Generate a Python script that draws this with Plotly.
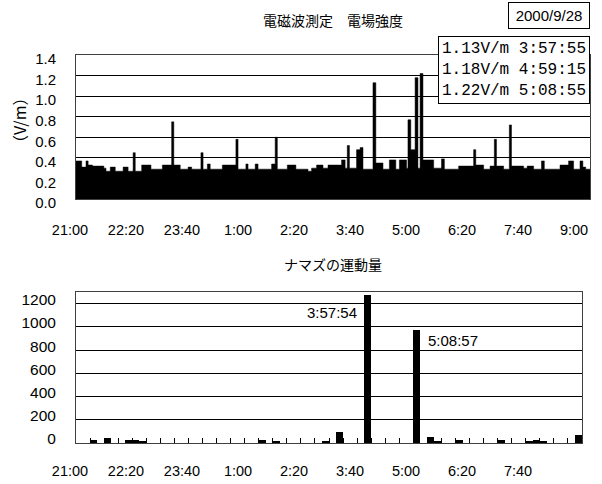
import plotly.graph_objects as go

# ---------------- data ----------------
# Top chart: electric field strength, step profile (minutes after 21:00 -> V/m)
field_start_min = [0, 8, 14, 17, 23, 39, 42, 48, 55, 66, 73, 80, 83, 92, 105, 121, 134, 137,
                   146, 157, 162, 175, 178, 184, 188, 205, 224, 227, 238, 241, 251, 255, 274,
                   279, 282, 296, 308, 325, 330, 337, 346, 353, 372, 377, 380, 383, 393, 398,
                   402, 416, 420, 430, 439, 448, 453, 463, 465, 469, 475, 479, 482, 486, 501,
                   512, 516, 536, 557, 560, 571, 580, 586, 589, 599, 607, 610, 627, 632, 641,
                   652, 656, 678, 690, 697, 706, 710, 714]
field_value = [0.37, 0.31, 0.37, 0.33, 0.32, 0.30, 0.27, 0.31, 0.27, 0.31, 0.27, 0.45, 0.27,
               0.33, 0.29, 0.33, 0.75, 0.33, 0.29, 0.31, 0.29, 0.45, 0.29, 0.34, 0.29, 0.33,
               0.58, 0.29, 0.34, 0.29, 0.34, 0.29, 0.34, 0.60, 0.29, 0.33, 0.29, 0.27, 0.30,
               0.33, 0.30, 0.33, 0.38, 0.30, 0.52, 0.30, 0.48, 0.50, 0.29, 1.13, 0.35, 0.29,
               0.38, 0.29, 0.38, 0.30, 0.77, 0.48, 1.18, 0.30, 1.22, 0.38, 0.30, 0.39, 0.29,
               0.32, 0.48, 0.33, 0.29, 0.32, 0.58, 0.32, 0.29, 0.72, 0.32, 0.30, 0.32, 0.29,
               0.37, 0.29, 0.33, 0.37, 0.29, 0.37, 0.31, 0.29]
field_end_min = 720

# Bottom chart: catfish movement per 10-minute bin (72 bins from 21:00)
motion_bin_start_min = list(range(0, 720, 10))
motion_value = [0, 0, 30, 0, 45, 0, 0, 25, 25, 10,
                0, 0, 0, 0, 0, 0, 0, 0, 0, 0,
                0, 0, 0, 0, 0, 0, 25, 0, 20, 0,
                0, 0, 0, 0, 0, 20, 0, 92, 0, 0,
                0, 1270, 0, 0, 0, 0, 0, 0, 975, 0,
                50, 20, 0, 0, 25, 0, 0, 0, 0, 0,
                25, 0, 0, 0, 20, 25, 20, 0, 0, 0,
                0, 65]

time_tick_min = [0, 80, 160, 240, 320, 400, 480, 560, 640, 720]
time_tick_text = ["21:00", "22:20", "23:40", "1:00", "2:20", "3:40", "5:00", "6:20", "7:40", "9:00"]

top_y_ticks = [0, 0.2, 0.4, 0.6, 0.8, 1.0, 1.2, 1.4]
bottom_y_ticks = [0, 200, 400, 600, 800, 1000, 1200]

title_top = "電磁波測定　電場強度"
title_bottom = "ナマズの運動量"
y_title_top = "（V/m）"
date_text = "2000/9/28"
peak_lines = ["1.13V/m 3:57:55", "1.18V/m 4:59:15", "1.22V/m 5:08:55"]
motion_peak_labels = ["3:57:54", "5:08:57"]

# ---------------- figure ----------------
W, H = 602, 484
SANS = "Liberation Sans, Arial, sans-serif"
MONO = "Liberation Mono, DejaVu Sans Mono, monospace"
CJK = "Noto Sans CJK JP, sans-serif"

fig = go.Figure()

fig.add_trace(go.Scatter(
    x=field_start_min + [field_end_min],
    y=field_value + [field_value[-1]],
    mode="lines", line=dict(shape="hv", color="black", width=0.5),
    fill="tozeroy", fillcolor="black",
    xaxis="x", yaxis="y", showlegend=False, hoverinfo="skip"))

fig.add_trace(go.Bar(
    x=motion_bin_start_min, y=motion_value, offset=0, width=10,
    marker=dict(color="black", line=dict(width=0)),
    xaxis="x2", yaxis="y2", showlegend=False))

# invisible carriers for the time-label axes
fig.add_trace(go.Scatter(x=time_tick_min, y=[None] * len(time_tick_min), mode="markers",
                         xaxis="x3", yaxis="y3", showlegend=False, hoverinfo="skip"))
fig.add_trace(go.Scatter(x=time_tick_min, y=[None] * len(time_tick_min), mode="markers",
                         xaxis="x4", yaxis="y4", showlegend=False, hoverinfo="skip"))


def px_x(p):
    return p / W


def px_y(p):
    return 1 - p / H


top_dom_x = [px_x(76), px_x(590)]
top_dom_y = [px_y(199), px_y(55)]
bot_dom_x = [px_x(76), px_x(582)]
bot_dom_y = [px_y(443), px_y(292)]

axis_line = dict(showline=True, linecolor="#404040", linewidth=1, mirror=True)

# label axis mapping: label pixel = 70 + 0.7*minute
lab_range = [-70 / 0.7, (W - 70) / 0.7]

fig.update_layout(
    width=W, height=H,
    margin=dict(l=0, r=0, t=0, b=0, autoexpand=False),
    paper_bgcolor="white", plot_bgcolor="rgba(0,0,0,0)",
    bargap=0,
    xaxis=dict(domain=top_dom_x, anchor="y", range=[0, 720], showgrid=False, automargin=False,
               zeroline=False, showticklabels=False, ticks="", **axis_line),
    yaxis=dict(domain=top_dom_y, anchor="x", range=[0, 1.4], tickvals=top_y_ticks,
               tickformat=".1f", showgrid=True, gridcolor="black", gridwidth=1,
               zeroline=False, ticks="", ticklabelstandoff=16, ticklabelshift=4,
               automargin=False,
               tickfont=dict(family=SANS, size=15, color="black"), **axis_line),
    xaxis2=dict(domain=bot_dom_x, anchor="y2", range=[0, 720], showgrid=False, automargin=False,
                zeroline=False, showticklabels=False, ticks="inside", tick0=0, dtick=20,
                ticklen=5, tickcolor="black", tickwidth=1, **axis_line),
    yaxis2=dict(domain=bot_dom_y, anchor="x2", range=[0, 1300], tickvals=bottom_y_ticks,
                showgrid=True, gridcolor="black", gridwidth=1, zeroline=False, ticks="",
                ticklabelstandoff=16, ticklabelshift=-4, automargin=False,
                tickfont=dict(family=SANS, size=15.5, color="black"), **axis_line),
    xaxis3=dict(domain=[0, 1], anchor="y3", range=lab_range, tickvals=time_tick_min,
                ticktext=time_tick_text, showgrid=False, zeroline=False, showline=False,
                ticks="", ticklabelstandoff=20, automargin=False,
                tickfont=dict(family=SANS, size=14.5, color="black")),
    yaxis3=dict(domain=top_dom_y, anchor="x3", range=[0, 1], visible=False, automargin=False),
    xaxis4=dict(domain=[0, 1], anchor="y4", range=lab_range, tickvals=time_tick_min[:-1],
                ticktext=time_tick_text[:-1], showgrid=False, zeroline=False, showline=False,
                ticks="", ticklabelstandoff=17, automargin=False,
                tickfont=dict(family=SANS, size=14.5, color="black")),
    yaxis4=dict(domain=bot_dom_y, anchor="x4", range=[0, 1], visible=False, automargin=False),
)

annotations = [
    dict(text=title_top, xref="paper", yref="paper", x=px_x(333), y=px_y(20),
         xanchor="center", yanchor="middle",
         showarrow=False, font=dict(family=CJK, size=14, color="black")),
    dict(text=title_bottom, xref="paper", yref="paper", x=px_x(333), y=px_y(264),
         xanchor="center", yanchor="middle",
         showarrow=False, font=dict(family=CJK, size=14, color="black")),
    dict(text=y_title_top, xref="paper", yref="paper", x=px_x(19), y=px_y(121),
         xanchor="center", yanchor="middle",
         textangle=-90, showarrow=False, font=dict(family=CJK, size=16, color="black")),
    dict(text=date_text, xref="paper", yref="paper", x=px_x(590), y=px_y(2),
         xanchor="right", yanchor="top", showarrow=False, bgcolor="white",
         bordercolor="black", borderwidth=1, borderpad=4, width=72,
         font=dict(family=SANS, size=15, color="black")),
    dict(text="<br>".join(peak_lines), xref="paper", yref="paper", x=px_x(590), y=px_y(36),
         xanchor="right", yanchor="top", align="left", showarrow=False, bgcolor="white",
         bordercolor="black", borderwidth=1, borderpad=3,
         font=dict(family=MONO, size=16, color="black")),
    dict(text=motion_peak_labels[0], xref="x2", yref="y2", x=410, y=1120,
         xanchor="right", xshift=-5, showarrow=False,
         font=dict(family=SANS, size=15, color="black")),
    dict(text=motion_peak_labels[1], xref="x2", yref="y2", x=490, y=880,
         xanchor="left", xshift=6, showarrow=False,
         font=dict(family=SANS, size=15, color="black")),
]
fig.update_layout(annotations=annotations)

fig.write_html("out.html", config={"displayModeBar": False},
               post_script="document.body.style.margin='0';")
